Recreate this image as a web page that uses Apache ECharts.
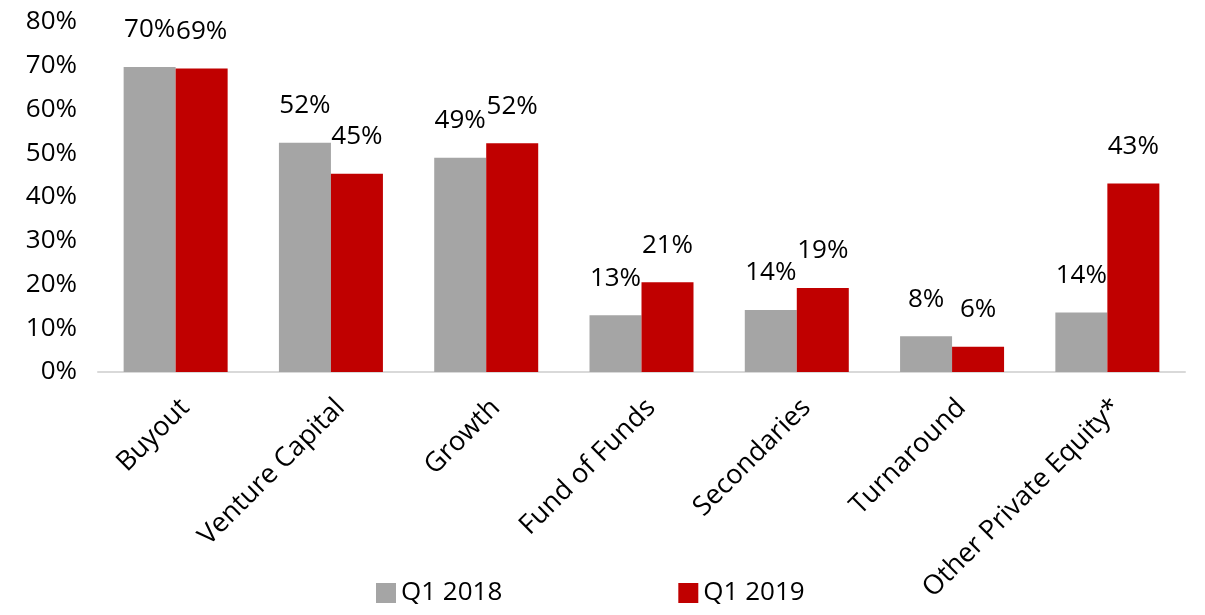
<!DOCTYPE html>
<html>
<head>
<meta charset="utf-8">
<script src="https://cdn.jsdelivr.net/npm/echarts@6/dist/echarts.min.js"></script>
<style>
html,body{margin:0;padding:0;background:#fff;}
#chart{width:1205px;height:615px;}
</style>
</head>
<body>
<div id="chart"></div>
<script>
const categories = ['Buyout', 'Venture Capital', 'Growth', 'Fund of Funds', 'Secondaries', 'Turnaround', 'Other Private Equity*'];
const seriesNames = ['Q1 2018', 'Q1 2019'];
const q12018 = [69.7, 52.4, 49.0, 13.0, 14.2, 8.2, 13.6];
const q12019 = [69.4, 45.3, 52.3, 20.5, 19.2, 5.8, 43.1];
const yTicks = [0, 10, 20, 30, 40, 50, 60, 70, 80];

const FONT = '"Open Sans", "Liberation Sans", sans-serif';
const chart = echarts.init(document.getElementById('chart'));
const labelCfg = {
  show: true, position: 'top', distance: 24,
  fontFamily: FONT, fontSize: 26, color: '#000',
  formatter: p => Math.round(p.value) + '%'
};
chart.setOption({
  animation: false,
  textStyle: { fontFamily: FONT },
  grid: { left: 98, right: 20, top: 22, bottom: 243, containLabel: false },
  legend: {
    data: seriesNames, left: 371, top: 575,
    itemWidth: 20, itemHeight: 20, itemGap: 176,
    icon: 'rect',
    textStyle: { fontFamily: FONT, fontSize: 26, color: '#000' }
  },
  xAxis: {
    type: 'category', data: categories,
    axisLine: { lineStyle: { color: '#D9D9D9', width: 2 } },
    axisTick: { show: false },
    axisLabel: { interval: 0, rotate: 45, margin: 22, verticalAlign: 'top',
      fontFamily: FONT, fontSize: 27, color: '#000' }
  },
  yAxis: {
    type: 'value', min: yTicks[0], max: yTicks[yTicks.length - 1], interval: 10,
    axisLine: { show: false }, axisTick: { show: false },
    splitLine: { show: false },
    axisLabel: { formatter: '{value}%', margin: 21, fontFamily: FONT, fontSize: 26, color: '#000' }
  },
  series: [
    { name: seriesNames[0], type: 'bar', data: q12018, barWidth: 52, barGap: '0%',
      itemStyle: { color: '#A5A5A5' }, label: labelCfg },
    { name: seriesNames[1], type: 'bar', data: q12019, barWidth: 52, barGap: '0%',
      itemStyle: { color: '#C00000' }, label: labelCfg }
  ]
});
</script>
</body>
</html>
